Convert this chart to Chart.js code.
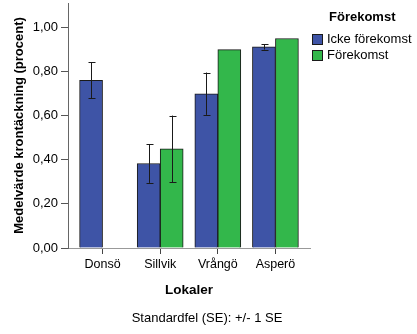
<!DOCTYPE html>
<html>
<head>
<meta charset="utf-8">
<script src="https://cdn.jsdelivr.net/npm/chart.js@4/dist/chart.umd.min.js"></script>
<style>
  html, body { margin: 0; padding: 0; background: #fff; }
  #wrap { position: relative; width: 417px; height: 334px; font-family: "Liberation Sans", Arial, sans-serif; color: #000; }
  #chart { position: absolute; left: 0; top: 0; }
  .legend { position: absolute; left: 312px; top: 8px; font-size: 13px; }
  .legend .title { font-weight: bold; margin-left: 17px; height: 17px; line-height: 17px; margin-bottom: 6px; }
  .legend .item { height: 16px; line-height: 16px; display: flex; align-items: center; }
  .legend .box { width: 9px; height: 9px; border: 1px solid #1a1a1a; margin-right: 4px; }
  .note { position: absolute; left: 0; top: 310px; width: 414px; text-align: center; font-size: 13px; line-height: 16px; }
</style>
</head>
<body>
<div id="wrap">
  <canvas id="chart" width="417" height="334"></canvas>
  <div class="legend" id="legend"></div>
  <div class="note">Standardfel (SE): +/- 1 SE</div>
</div>
<script>
  const categories = ["Donsö", "Sillvik", "Vrångö", "Asperö"];
  const ickeValues = [0.76, 0.383, 0.699, 0.911];
  const ickeErrors = [0.082, 0.088, 0.096, 0.012];
  const forekomstValues = [null, 0.449, 0.899, 0.949];
  const forekomstErrors = [null, 0.151, null, null];
  const yTicks = [0, 0.2, 0.4, 0.6, 0.8, 1.0];

  const BLUE = "#3e54a6";
  const GREEN = "#33b74b";

  function toPoints(values) {
    return values.map((v, i) => ({ x: i, y: v }));
  }

  // whiskers at +/- 1 SE on top of each bar
  const errorBars = {
    id: "errorBars",
    afterDatasetsDraw(chart) {
      const ctx = chart.ctx;
      const yScale = chart.scales.y;
      chart.data.datasets.forEach((ds, i) => {
        const meta = chart.getDatasetMeta(i);
        meta.data.forEach((bar, j) => {
          const v = ds.data[j].y;
          const e = ds.errors[j];
          if (v == null || e == null) return;
          const x = Math.round(bar.x) + 0.5;
          const yHi = yScale.getPixelForValue(v + e);
          const yLo = yScale.getPixelForValue(v - e);
          ctx.save();
          ctx.strokeStyle = "#1a1a1a";
          ctx.lineWidth = 1;
          ctx.beginPath();
          ctx.moveTo(x, yHi);
          ctx.lineTo(x, yLo);
          ctx.moveTo(x - 3, Math.round(yHi) + 0.5);
          ctx.lineTo(x + 4, Math.round(yHi) + 0.5);
          ctx.moveTo(x - 3, Math.round(yLo) + 0.5);
          ctx.lineTo(x + 4, Math.round(yLo) + 0.5);
          ctx.stroke();
          ctx.restore();
        });
      });
    },
  };

  const datasets = [
    { label: "Icke förekomst", data: toPoints(ickeValues), errors: ickeErrors, backgroundColor: BLUE },
    { label: "Förekomst", data: toPoints(forekomstValues), errors: forekomstErrors, backgroundColor: GREEN },
  ];

  // legend as plain text next to the plot
  const legendEl = document.getElementById("legend");
  let legendHtml = '<div class="title">Förekomst</div>';
  datasets.forEach((ds) => {
    legendHtml += `<div class="item"><span class="box" style="background:${ds.backgroundColor}"></span>${ds.label}</div>`;
  });
  legendEl.innerHTML = legendHtml;

  Chart.defaults.font.family = "'Liberation Sans', Arial, sans-serif";
  Chart.defaults.font.size = 13;
  Chart.defaults.color = "#000";

  new Chart(document.getElementById("chart"), {
    type: "bar",
    data: { datasets },
    plugins: [errorBars],
    options: {
      responsive: false,
      animation: false,
      events: [],
      layout: { padding: { top: 3, right: 107, bottom: 36, left: 0 } },
      datasets: {
        bar: { barThickness: 23, borderColor: "#1a1a1a", borderWidth: 1, grouped: true },
      },
      plugins: { legend: { display: false }, tooltip: { enabled: false } },
      scales: {
        x: {
          type: "linear",
          min: -0.6,
          max: 3.6,
          offset: false,
          afterBuildTicks(scale) {
            scale.ticks = categories.map((c, i) => ({ value: i }));
          },
          afterFit(scale) { scale.height = 50; },
          ticks: {
            autoSkip: false,
            maxRotation: 0,
            padding: 3,
            font: { size: 12.5 },
            callback: (v) => categories[Math.round(v)],
          },
          grid: { offset: false, drawOnChartArea: false, drawTicks: true, tickLength: 6, color: "#444" },
          border: { display: true, color: "#999", width: 1 },
          title: { display: true, text: "Lokaler", font: { weight: "bold", size: 13.5 }, padding: { top: 0, bottom: 0 } },
        },
        y: {
          min: 0,
          max: 1.11,
          afterBuildTicks(scale) {
            scale.ticks = yTicks.map((v) => ({ value: v }));
          },
          afterFit(scale) {
            scale.width = 68;
            scale.paddingTop = 0;
          },
          ticks: {
            padding: 3,
            callback: (v) => v.toFixed(2).replace(".", ","),
          },
          grid: { drawOnChartArea: false, drawTicks: true, tickLength: 7, color: "#555" },
          border: { display: true, color: "#666", width: 1 },
          title: {
            display: true,
            text: "Medelvärde krontäckning (procent)",
            font: { weight: "bold", size: 13 },
            padding: { top: 12, bottom: 0 },
          },
        },
      },
    },
  });
</script>
</body>
</html>
